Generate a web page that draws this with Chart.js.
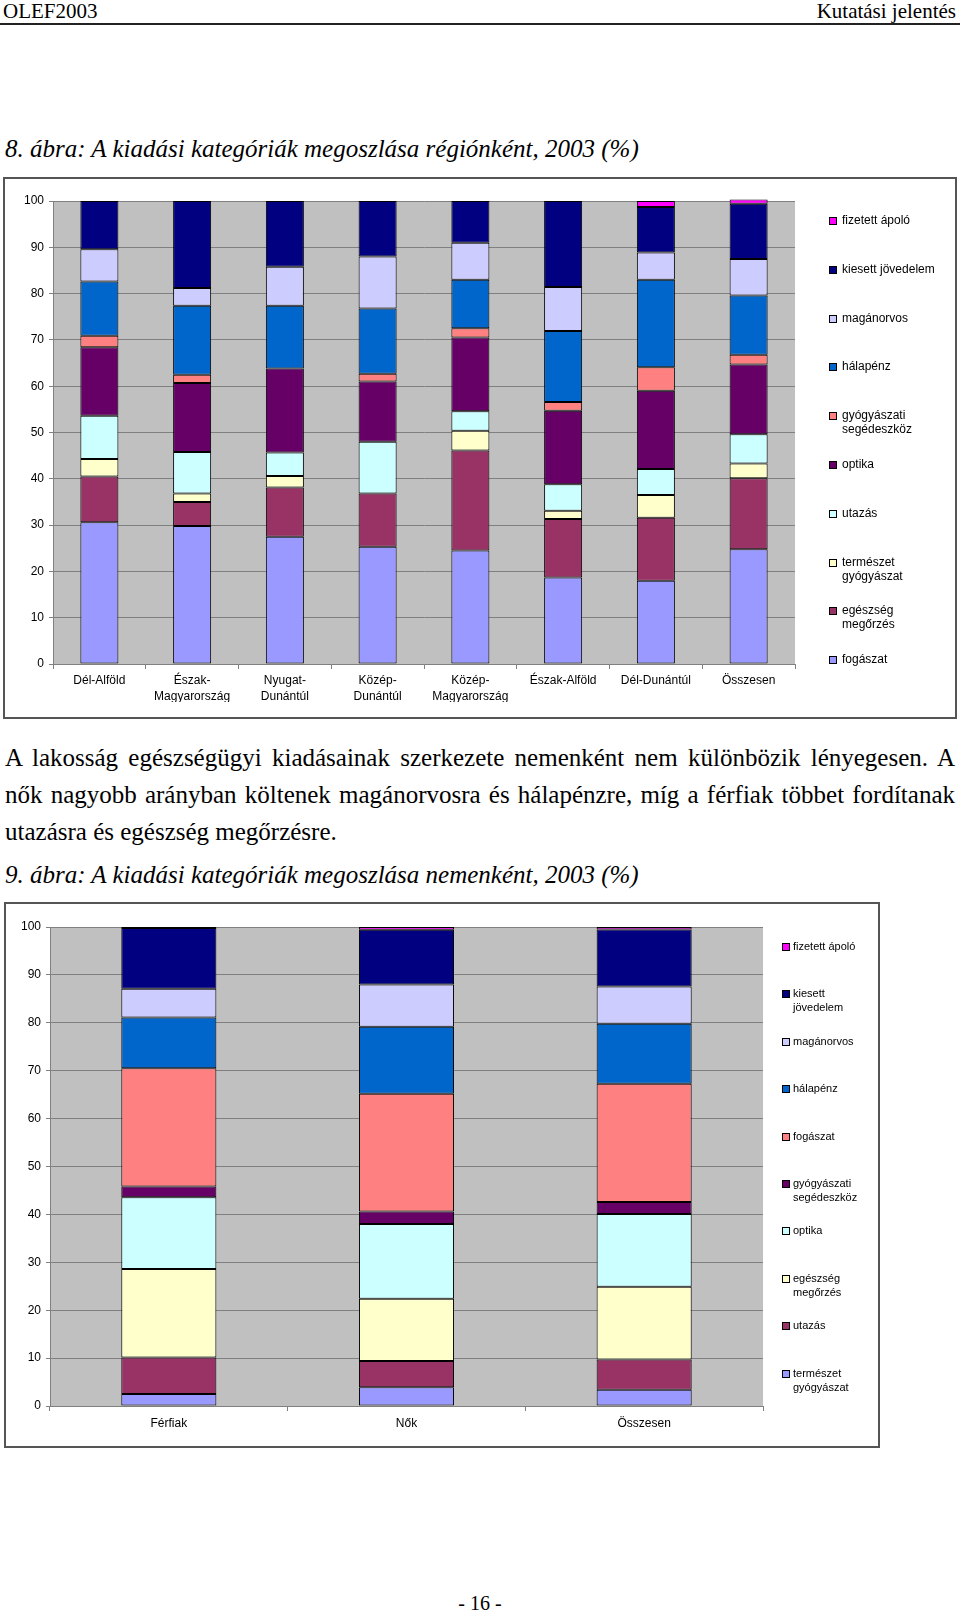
<!DOCTYPE html>
<html>
<head>
<meta charset="utf-8">
<script src="https://cdn.jsdelivr.net/npm/chart.js@4/dist/chart.umd.min.js"></script>
<style>
  body { margin: 0; width: 960px; height: 1613px; position: relative; overflow: hidden; background: #fff;
         font-family: "Liberation Serif", "Times New Roman", serif; color: #000; }
  .t { position: absolute; white-space: nowrap; }
  .line { position: absolute; left: 5px; width: 950px; font-size: 25px; line-height: 37px; white-space: nowrap; }
  .just { text-align: justify; text-align-last: justify; }
  .box { position: absolute; border: 2px solid #555; box-sizing: border-box; background: #fff; }
  .box canvas { position: absolute; left: 0; top: 0; }
</style>
</head>
<body>

<div class="t" style="left:3px;top:0;font-size:21px;line-height:22px">OLEF2003</div>
<div class="t" style="right:4px;top:0;font-size:21px;line-height:22px">Kutatási jelentés</div>
<div style="position:absolute;left:0;top:23px;width:960px;height:2px;background:#222"></div>

<div class="t" style="left:5px;top:134px;font-size:25px;line-height:30px;font-style:italic">8. ábra: A kiadási kategóriák megoszlása régiónként, 2003 (%)</div>

<div class="box" style="left:3px;top:177px;width:954px;height:542px">
  <canvas id="regionChart" width="950" height="538"></canvas>
</div>

<div class="line just" style="top:739px">A lakosság egészségügyi kiadásainak szerkezete nemenként nem különbözik lényegesen. A</div>
<div class="line just" style="top:776px">nők nagyobb arányban költenek magánorvosra és hálapénzre, míg a férfiak többet fordítanak</div>
<div class="line" style="top:813px">utazásra és egészség megőrzésre.</div>

<div class="t" style="left:5px;top:860px;font-size:25px;line-height:30px;font-style:italic">9. ábra: A kiadási kategóriák megoszlása nemenként, 2003 (%)</div>

<div class="box" style="left:4px;top:902px;width:876px;height:546px">
  <canvas id="genderChart" width="872" height="542"></canvas>
</div>

<div class="t" style="left:0;width:960px;text-align:center;top:1591px;font-size:20px;line-height:24px">- 16 -</div>

<script>
// Excel default series colours, bottom segment first
const palette = ['#9999FF', '#993366', '#FFFFCC', '#CCFFFF', '#660066', '#FF8080', '#0066CC', '#CCCCFF', '#000080', '#FF00FF'];

// 8. ábra – regions
const regions = ['Dél-Alföld', ['Észak-', 'Magyarország'], ['Nyugat-', 'Dunántúl'], ['Közép-', 'Dunántúl'],
                 ['Közép-', 'Magyarország'], 'Észak-Alföld', 'Dél-Dunántúl', 'Összesen'];
const regionSeries = ['fogászat', 'egészség\nmegőrzés', 'természet\ngyógyászat', 'utazás', 'optika',
                      'gyógyászati\nsegédeszköz', 'hálapénz', 'magánorvos', 'kiesett jövedelem', 'fizetett ápoló'];
const fogaszat     = [30.6, 29.8, 27.5, 25.3, 24.5, 18.7, 18.0, 24.8];
const egeszseg     = [9.9, 5.2, 10.6, 11.5, 21.6, 12.6, 13.6, 15.3];
const termeszet    = [3.8, 1.8, 2.5, 0, 4.3, 1.8, 4.9, 3.2];
const utazas       = [9.3, 9.0, 5.1, 11.2, 4.2, 5.7, 5.6, 6.3];
const optika       = [14.8, 14.9, 18.1, 13.0, 15.9, 15.9, 16.9, 15.1];
const segedeszkoz  = [2.5, 1.8, 0, 1.7, 2.0, 1.9, 5.1, 2.1];
const halapenz     = [11.7, 14.9, 13.6, 14.1, 10.5, 15.3, 18.9, 12.8];
const maganorvos   = [7.0, 3.8, 8.4, 11.2, 8.0, 9.5, 5.9, 7.9];
const kiesett      = [10.4, 18.8, 14.2, 12.0, 9.0, 18.6, 9.8, 11.9];
const apolo        = [0, 0, 0, 0, 0, 0, 1.3, 0.9];
const regionValues = [fogaszat, egeszseg, termeszet, utazas, optika, segedeszkoz, halapenz, maganorvos, kiesett, apolo];

// 9. ábra – gender
const genders = ['Férfiak', 'Nők', 'Összesen'];
const genderSeries = ['természet\ngyógyászat', 'utazás', 'egészség\nmegőrzés', 'optika', 'gyógyászati\nsegédeszköz',
                      'fogászat', 'hálapénz', 'magánorvos', 'kiesett\njövedelem', 'fizetett ápoló'];
const gTermeszet   = [2.5, 3.9, 3.4];
const gUtazas      = [7.6, 5.5, 6.3];
const gEgeszseg    = [18.5, 13.0, 15.2];
const gOptika      = [15.0, 15.6, 15.2];
const gSegedeszkoz = [2.2, 2.6, 2.5];
const gFogaszat    = [24.7, 24.6, 24.7];
const gHalapenz    = [10.6, 14.0, 12.5];
const gMaganorvos  = [6.0, 8.8, 7.8];
const gKiesett     = [12.7, 11.4, 11.9];
const gApolo       = [0.2, 0.6, 0.5];
const genderValues = [gTermeszet, gUtazas, gEgeszseg, gOptika, gSegedeszkoz, gFogaszat, gHalapenz, gMaganorvos, gKiesett, gApolo];

Chart.defaults.font.family = '"Liberation Sans", Arial, sans-serif';
Chart.defaults.font.size = 12;
Chart.defaults.color = '#000';

// grey plot area like Excel
const plotBg = {
  id: 'plotBg',
  beforeDraw(chart) {
    const a = chart.chartArea;
    chart.ctx.save();
    chart.ctx.fillStyle = '#C0C0C0';
    chart.ctx.fillRect(a.left, a.top, a.right - a.left, a.bottom - a.top);
    chart.ctx.restore();
  }
};

// legend on the right, top series first
const sideLegend = {
  id: 'sideLegend',
  afterDraw(chart, args, o) {
    const ctx = chart.ctx;
    const sets = chart.data.datasets;
    ctx.save();
    ctx.font = o.size + 'px "Liberation Sans", Arial, sans-serif';
    ctx.textBaseline = 'middle';
    ctx.textAlign = 'left';
    for (let i = 0; i < sets.length; i++) {
      const ds = sets[sets.length - 1 - i];
      const y = Math.round(o.top + i * o.step);
      ctx.fillStyle = ds.backgroundColor;
      ctx.fillRect(o.boxX, y - 4, 8, 8);
      ctx.strokeStyle = '#000';
      ctx.lineWidth = 1;
      ctx.strokeRect(o.boxX + 0.5, y - 3.5, 7, 7);
      ctx.fillStyle = '#000';
      ds.label.split('\n').forEach((txt, j) => ctx.fillText(txt, o.textX, y + j * o.lineH));
    }
    ctx.restore();
  }
};

function makeStack(id, labels, names, values, cfg) {
  const datasets = names.map((name, i) => ({
    label: name,
    data: values[i],
    backgroundColor: palette[i],
    borderColor: '#000',
    borderWidth: 1,
    borderSkipped: false,
    clip: false
  }));

  return new Chart(document.getElementById(id), {
    type: 'bar',
    data: { labels: labels, datasets: datasets },
    plugins: [plotBg, sideLegend],
    options: {
      responsive: false,
      animation: false,
      barPercentage: cfg.barPct,
      categoryPercentage: 1,
      layout: { padding: cfg.padding },
      plugins: {
        legend: { display: false },
        tooltip: { enabled: false },
        sideLegend: cfg.legend
      },
      scales: {
        x: {
          stacked: true,
          grid: { offset: true, drawOnChartArea: false, color: '#808080', tickLength: 5 },
          border: { color: '#808080' },
          ticks: { autoSkip: false, maxRotation: 0, padding: cfg.xPad, font: { size: 12, lineHeight: cfg.xLine } },
          afterFit: s => { s.height = cfg.xHeight; }
        },
        y: {
          stacked: true,
          min: 0,
          max: 100,
          grid: { color: '#808080', tickLength: 4 },
          border: { color: '#808080' },
          ticks: { stepSize: 10, padding: 5 },
          afterFit: s => { s.width = cfg.yWidth; }
        }
      }
    }
  });
}

makeStack('regionChart', regions, regionSeries, regionValues, {
  barPct: 0.41,
  padding: { left: 0, top: 22, right: 160, bottom: 15 },
  yWidth: 48,
  xHeight: 38,
  xPad: 4,
  xLine: 1.333,
  legend: { boxX: 824, textX: 837, top: 42, step: 48.8, lineH: 14, size: 12 }
});

makeStack('genderChart', genders, genderSeries, genderValues, {
  barPct: 0.4,
  padding: { left: 0, top: 23, right: 115, bottom: 12 },
  yWidth: 44,
  xHeight: 28,
  xPad: 5,
  xLine: 1.2,
  legend: { boxX: 776, textX: 787, top: 43, step: 47.4, lineH: 14, size: 11 }
});
</script>
</body>
</html>
